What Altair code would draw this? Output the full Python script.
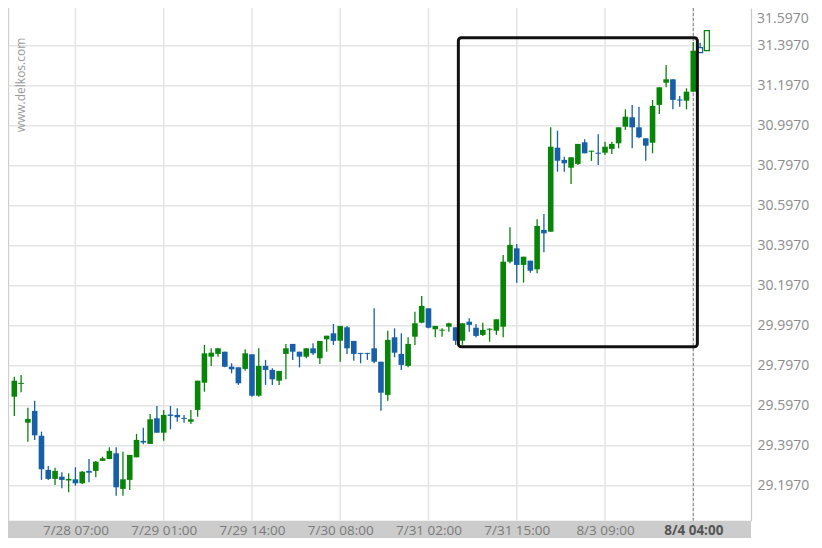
import altair as alt
import pandas as pd

# ---------------- data ----------------
opens = [29.642, 29.706, 29.512, 29.571, 29.447, 29.276, 29.231, 29.242, 29.223, 29.229,
         29.209, 29.271, 29.271, 29.321, 29.330, 29.359, 29.181, 29.226, 29.339, 29.421,
         29.406, 29.534, 29.462, 29.553, 29.551, 29.536, 29.517, 29.576, 29.712, 29.842,
         29.856, 29.867, 29.792, 29.789, 29.781, 29.854, 29.647, 29.796, 29.776, 29.722,
         29.856, 29.906, 29.867, 29.842, 29.884, 29.834, 29.929, 29.959, 29.922, 29.989,
         29.921, 29.861, 29.861, 29.884, 29.817, 29.651, 29.939, 29.856, 29.796, 29.942,
         30.012, 30.084, 29.979, 29.972, 29.992, 29.989, 29.922, 30.017, 29.987, 29.951,
         29.977, 29.972, 29.992, 30.317, 30.384, 30.301, 30.322, 30.279, 30.476, 30.467,
         30.887, 30.826, 30.787, 30.806, 30.914, 30.867, 30.862, 30.862, 30.881, 30.909,
         30.992, 31.039, 30.989, 30.934, 30.912, 31.101, 31.212, 31.229, 31.128, 31.122,
         31.167, 31.387, 31.372]
highs = [29.742, 29.751, 29.587, 29.622, 29.467, 29.296, 29.287, 29.264, 29.259, 29.289,
         29.271, 29.330, 29.321, 29.342, 29.389, 29.389, 29.367, 29.351, 29.456, 29.487,
         29.556, 29.596, 29.576, 29.596, 29.584, 29.551, 29.576, 29.722, 29.901, 29.884,
         29.884, 29.867, 29.809, 29.789, 29.879, 29.854, 29.884, 29.826, 29.784, 29.771,
         29.906, 29.906, 29.867, 29.884, 29.909, 29.921, 29.947, 30.006, 29.996, 29.996,
         29.921, 29.861, 29.861, 30.084, 29.817, 29.972, 29.984, 29.959, 29.939, 30.067,
         30.146, 30.084, 29.996, 29.984, 30.012, 29.989, 30.009, 30.034, 30.006, 30.012,
         29.984, 30.029, 30.351, 30.489, 30.406, 30.342, 30.322, 30.529, 30.556, 30.989,
         30.972, 30.842, 30.839, 30.906, 30.929, 30.872, 30.954, 30.917, 30.917, 30.989,
         31.079, 31.101, 31.092, 30.934, 31.126, 31.189, 31.301, 31.229, 31.146, 31.184,
         31.415, 31.412, 31.472]
lows = [29.546, 29.664, 29.417, 29.426, 29.226, 29.226, 29.201, 29.184, 29.164, 29.197,
        29.205, 29.214, 29.239, 29.321, 29.330, 29.147, 29.147, 29.176, 29.339, 29.404,
        29.406, 29.462, 29.422, 29.479, 29.517, 29.512, 29.506, 29.542, 29.667, 29.796,
        29.842, 29.789, 29.759, 29.701, 29.772, 29.642, 29.642, 29.701, 29.701, 29.701,
        29.729, 29.826, 29.789, 29.834, 29.851, 29.806, 29.867, 29.901, 29.817, 29.856,
        29.822, 29.809, 29.826, 29.809, 29.572, 29.622, 29.839, 29.776, 29.789, 29.901,
        30.009, 29.984, 29.939, 29.942, 29.967, 29.901, 29.901, 29.967, 29.939, 29.946,
        29.917, 29.951, 29.939, 30.309, 30.212, 30.212, 30.262, 30.259, 30.364, 30.467,
        30.767, 30.767, 30.706, 30.801, 30.859, 30.821, 30.801, 30.851, 30.856, 30.884,
        30.976, 30.884, 30.934, 30.822, 30.859, 31.056, 31.189, 31.079, 31.092, 31.079,
        31.167, 31.362, 31.372]
closes = [29.722, 29.711, 29.531, 29.449, 29.279, 29.231, 29.271, 29.226, 29.231, 29.209,
          29.267, 29.262, 29.317, 29.334, 29.371, 29.189, 29.229, 29.351, 29.426, 29.413,
          29.529, 29.462, 29.551, 29.546, 29.539, 29.531, 29.529, 29.722, 29.859, 29.862,
          29.884, 29.792, 29.779, 29.709, 29.859, 29.647, 29.796, 29.776, 29.729, 29.771,
          29.884, 29.867, 29.842, 29.884, 29.859, 29.921, 29.947, 29.921, 29.996, 29.884,
          29.856, 29.856, 29.856, 29.817, 29.662, 29.926, 29.862, 29.801, 29.906, 30.009,
          30.096, 29.987, 29.996, 29.977, 30.009, 29.922, 30.009, 30.001, 29.946, 29.976,
          29.982, 30.029, 30.317, 30.401, 30.301, 30.342, 30.272, 30.496, 30.459, 30.892,
          30.822, 30.809, 30.839, 30.906, 30.859, 30.872, 30.857, 30.892, 30.906, 30.989,
          31.042, 30.989, 30.939, 30.897, 31.096, 31.189, 31.229, 31.126, 31.123, 31.167,
          31.372, 31.362, 31.472]
hollow_from = 101          # last candles drawn as outlines only

x_tick_idx = [9, 22, 35, 48, 61, 74, 87, 100]
x_tick_labels = ["7/28 07:00", "7/29 01:00", "7/29 14:00", "7/30 08:00",
                 "7/31 02:00", "7/31 15:00", "8/3 09:00", "8/4 04:00"]
y_ticks = [29.197, 29.397, 29.597, 29.797, 29.997, 30.197, 30.397,
           30.597, 30.797, 30.997, 31.197, 31.397]
top_tick_label = "31.5970"
marker_idx = [100]
box_x = [65.4, 100.6]
box_y = [31.437, 29.892]
watermark = "www.delkos.com"

# ---------------- style ----------------
GREEN = "#088508"
BLUE = "#175fa6"
GRID = "#e4e4e4"
W, H = 743, 512.7
X_DOMAIN = [-0.93, 108.5]
Y_DOMAIN = [29.022, 31.5855]
FONT = "Open Sans"

df = pd.DataFrame({"i": range(len(opens)), "o": opens, "h": highs, "l": lows, "c": closes})
df["dir"] = ["up" if c >= o else "down" for o, c in zip(opens, closes)]
df["hollow"] = df["i"] >= hollow_from

xs = alt.Scale(domain=X_DOMAIN, nice=False, zero=False, padding=0)
ys = alt.Scale(domain=Y_DOMAIN, nice=False, zero=False, padding=0)
col = alt.Color("dir:N", scale=alt.Scale(domain=["up", "down"], range=[GREEN, BLUE]), legend=None)

label_expr = "[" + ",".join("'%s'" % s for s in x_tick_labels) + "][round((datum.value - %d) / 13)]" % x_tick_idx[0]
last_tick = x_tick_idx[-1]

x_axis = alt.Axis(values=x_tick_idx, labelExpr=label_expr, grid=False, ticks=False, domain=False,
                  labelBaseline="middle", labelPadding=9.5, labelFont=FONT, labelFontSize=13.5,
                  labelColor={"condition": {"test": "datum.value == %d" % last_tick, "value": "#555555"}, "value": "#7a7a7a"},
                  labelFontWeight={"condition": {"test": "datum.value == %d" % last_tick, "value": "bold"}, "value": "normal"},
                  labelOverlap=False, labelFlush=False, title=None, zindex=1)
y_axis = alt.Axis(orient="right", values=y_ticks, format=".4f", grid=False, ticks=False,
                  domainColor="#c8c8c8", domainWidth=1.2, labelColor="#8c8c8c", labelFont=FONT,
                  labelFontSize=14, labelPadding=6, title=None, zindex=1)


def X(field):
    return alt.X(field, scale=xs, axis=x_axis, title=None)


def Y(field):
    return alt.Y(field, scale=ys, axis=y_axis, title=None)


one = pd.DataFrame({"k": [0]})

band = alt.Chart(one).mark_rect(color="#cccccc").encode(
    x=alt.value(0), x2=alt.value(W), y=alt.value(H), y2=alt.value(H + 17.6))

hgrid = alt.Chart(pd.DataFrame({"v": y_ticks})).mark_rule(color=GRID, strokeWidth=1.5).encode(
    y=Y("v:Q"))

vgrid = alt.Chart(pd.DataFrame({"v": x_tick_idx})).mark_rule(color=GRID, strokeWidth=1.5).encode(
    x=X("v:Q"))

left_border = alt.Chart(one).mark_rule(color="#cfcfcf", strokeWidth=1.2).encode(
    x=alt.value(0.5), y=alt.value(0), y2=alt.value(H))

marker = alt.Chart(pd.DataFrame({"v": marker_idx})).mark_rule(
    color="#808080", strokeWidth=1, strokeDash=[3, 2]).encode(x=X("v:Q"))

solid = df[~df["hollow"]]
hol = df[df["hollow"]]

wicks = alt.Chart(df).mark_rule(strokeWidth=1.3).encode(
    x=X("i:Q"), y=Y("l:Q"), y2="h:Q", color=col)

bodies = alt.Chart(solid).mark_bar(size=5.6).encode(
    x=X("i:Q"), y=Y("o:Q"), y2="c:Q", color=col)

hollow_bodies = alt.Chart(hol).mark_bar(size=5, fill="white", strokeWidth=1.3).encode(
    x=X("i:Q"), y=Y("o:Q"), y2="c:Q",
    stroke=alt.Stroke("dir:N", scale=alt.Scale(domain=["up", "down"], range=[GREEN, BLUE]), legend=None))

box = alt.Chart(pd.DataFrame({"x1": [box_x[0]], "x2": [box_x[1]], "y1": [box_y[0]], "y2": [box_y[1]]})).mark_rect(
    fill="white", fillOpacity=0, stroke="#111111", strokeWidth=3, cornerRadius=3).encode(
    x=X("x1:Q"), x2="x2:Q", y=Y("y1:Q"), y2="y2:Q")

wm = alt.Chart(one).mark_text(angle=270, fontSize=12, color="#9a9a9a", font=FONT).encode(
    x=alt.value(13), y=alt.value(77), text=alt.value(watermark))

top_label = alt.Chart(one).mark_text(align="left", baseline="middle", fontSize=14,
                                     color="#8c8c8c", font=FONT).encode(
    x=alt.value(W + 6), y=alt.value(11), text=alt.value(top_tick_label))

chart = alt.layer(band, hgrid, vgrid, left_border, marker, wicks, bodies, hollow_bodies, box, wm, top_label).properties(
    width=W, height=H,
    autosize=alt.AutoSizeParams(type="none"),
    padding={"left": 0, "top": 0, "right": 60, "bottom": 17.6},
    background="white",
).configure_view(stroke=None)

chart.save("out.html", embed_options={"renderer": "svg", "actions": False})
